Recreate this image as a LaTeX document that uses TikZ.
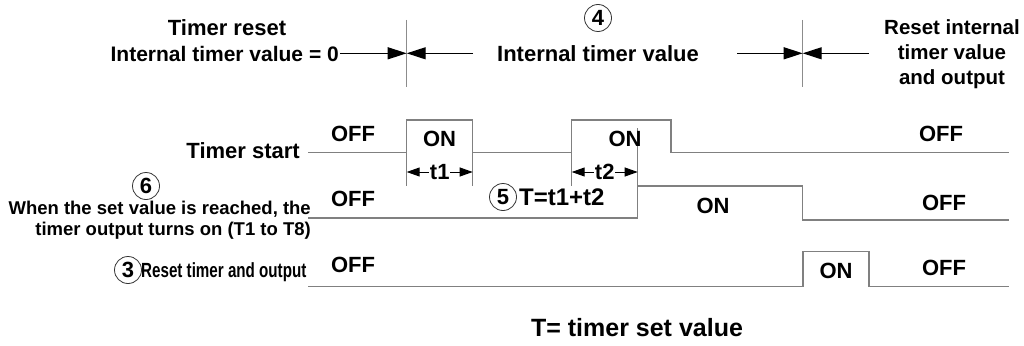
\documentclass[tikz,border=0pt]{standalone}
\usepackage{fontspec}
\setmainfont{Liberation Sans}
\newfontfamily\narrowfont[FakeStretch=0.74]{Liberation Sans}
\usetikzlibrary{arrows.meta}
\begin{document}
\begin{tikzpicture}[x=1pt,y=-1pt,
  lbl/.style={font=\fontsize{22}{25}\selectfont\bfseries, inner sep=0pt, anchor=base},
  small/.style={font=\fontsize{18.5}{21.5}\selectfont\bfseries, inner sep=0pt, align=right},
  wave/.style={draw=black!50, line width=1.4pt},
  numc/.style={circle, draw=black!80, line width=0.8pt, minimum size=27pt, inner sep=0pt, font=\fontsize{22}{25}\selectfont\bfseries},
  bigarr/.style={-{Triangle[length=19pt,width=12pt]}, line width=1.2pt},
  dimarr/.style={{Triangle[length=13pt,width=9pt]}-{Triangle[length=13pt,width=9pt]}, line width=1pt},
  sep/.style={draw=black!45, line width=1.4pt}
]
\useasboundingbox (0,0) rectangle (1024,345);

% ---- top section ----
\coordinate (v1t) at (406.7,20);
\coordinate (v1b) at (406.7,86.7);
\coordinate (v1m) at (406.7,53.3);
\coordinate (v2t) at (802.7,20);
\coordinate (v2b) at (802.7,86.7);
\coordinate (v2m) at (802.7,53.3);
\draw[sep] (v1t) -- (v1b);
\draw[sep] (v2t) -- (v2b);

\node[lbl] (tr1) at (227,36) {Timer reset};
\node[lbl, font=\fontsize{21}{25}\selectfont\bfseries, anchor=base east] (tr2) at (339,61.5) {Internal timer value = 0};
\draw[bigarr] ([xshift=1pt]tr2.east |- v1m) -- (v1m);
\coordinate (a2s) at (473,53.3);
\draw[bigarr] (a2s) -- (v1m);

\node[numc] (n4) at (598,18) {4};
\node[lbl] (itv) at (598,61) {Internal timer value};
\coordinate (a3s) at (737,53.3);
\coordinate (a4s) at (869,53.3);
\draw[bigarr] (a3s) -- (v2m);
\draw[bigarr] (a4s) -- (v2m);
\node[lbl, font=\fontsize{20.5}{25}\selectfont\bfseries, align=center, anchor=north] (rst) at (952,19) {Reset internal\\timer value\\and output};

% ---- waveforms ----
% timer start
\coordinate (s0) at (308,152.7);
\coordinate (s1) at (406.7,152.7);
\coordinate (s2) at (406.7,120);
\coordinate (s3) at (472.7,120);
\coordinate (s4) at (472.7,152.7);
\coordinate (s5) at (571.7,152.7);
\coordinate (s6) at (571.7,120);
\coordinate (s7) at (671,120);
\coordinate (s8) at (671,152.7);
\coordinate (s9) at (1009,152.7);
\draw[wave] (s0) -- (s1) -- (s2) -- (s3) -- (s4) -- (s5) -- (s6) -- (s7) -- (s8) -- (s9);
\coordinate (e1) at (406.7,186);
\coordinate (e2) at (472.7,186);
\coordinate (e3) at (571.7,186);
\draw[wave] (s1) -- (e1);
\draw[wave] (s4) -- (e2);
\draw[wave] (s5) -- (e3);

% output
\coordinate (o0) at (308,218);
\coordinate (o1) at (637.7,218);
\coordinate (o2) at (637.7,186);
\coordinate (o3) at (802.7,186);
\coordinate (o4) at (802.7,220);
\coordinate (o5) at (1009,220);
\coordinate (oe) at (637.7,128);
\draw[wave] (o0) -- (o1) -- (o2) -- (o3) -- (o4) -- (o5);
\draw[wave] (o2) -- (oe);

% reset
\coordinate (r0) at (308,286.7);
\coordinate (r1) at (803,286.7);
\coordinate (r2) at (803,251.7);
\coordinate (r3) at (869,251.7);
\coordinate (r4) at (869,286.7);
\coordinate (r5) at (1009,286.7);
\draw[wave] (r0) -- (r1) -- (r2) -- (r3) -- (r4) -- (r5);

% dimension arrows
\coordinate (d1a) at (406.7,172);
\coordinate (d1b) at (472.7,172);
\coordinate (d2a) at (571.7,172);
\coordinate (d2b) at (637.7,172);
\draw[dimarr] (d1a) -- (d1b);
\draw[dimarr] (d2a) -- (d2b);
\node[lbl, anchor=center, fill=white, inner sep=0.5pt] (t1) at (439.7,172) {t1};
\node[lbl, anchor=center, fill=white, inner sep=0.5pt] (t2) at (604.7,172) {t2};

% labels on waveforms
\node[lbl] (off1) at (353,141.7) {OFF};
\node[lbl] (on1) at (439.5,146.7) {ON};
\node[lbl] (on2) at (625,146.7) {ON};
\node[lbl] (off2) at (941,141.7) {OFF};

\node[lbl] (off3) at (353,206.7) {OFF};
\node[numc] (n5) at (503,197) {5};
\node[lbl, font=\fontsize{24}{26}\selectfont\bfseries, anchor=base west] (teq) at (519,205.5) {T=t1+t2};
\node[lbl] (on3) at (713,213.5) {ON};
\node[lbl] (off4) at (944,210.5) {OFF};

\node[lbl] (off5) at (353,272.7) {OFF};
\node[lbl] (on4) at (836,278.5) {ON};
\node[lbl] (off6) at (944,275.5) {OFF};

% left labels
\node[lbl, anchor=base east] (tst) at (300,158.3) {Timer start};
\node[numc] (n6) at (146,186) {6};
\node[small, anchor=east] (when) at (311,220) {When the set value is reached, the\\timer output turns on (T1 to T8)};
\node[numc] (n3) at (128,270) {3};
\node[lbl, font=\fontsize{20.5}{25}\narrowfont\bfseries, anchor=base west] (rto) at (141,277) {Reset timer and output};

% bottom
\node[lbl, font=\fontsize{25}{28}\selectfont\bfseries] (tset) at (637,336) {T= timer set value};
\end{tikzpicture}
\end{document}
